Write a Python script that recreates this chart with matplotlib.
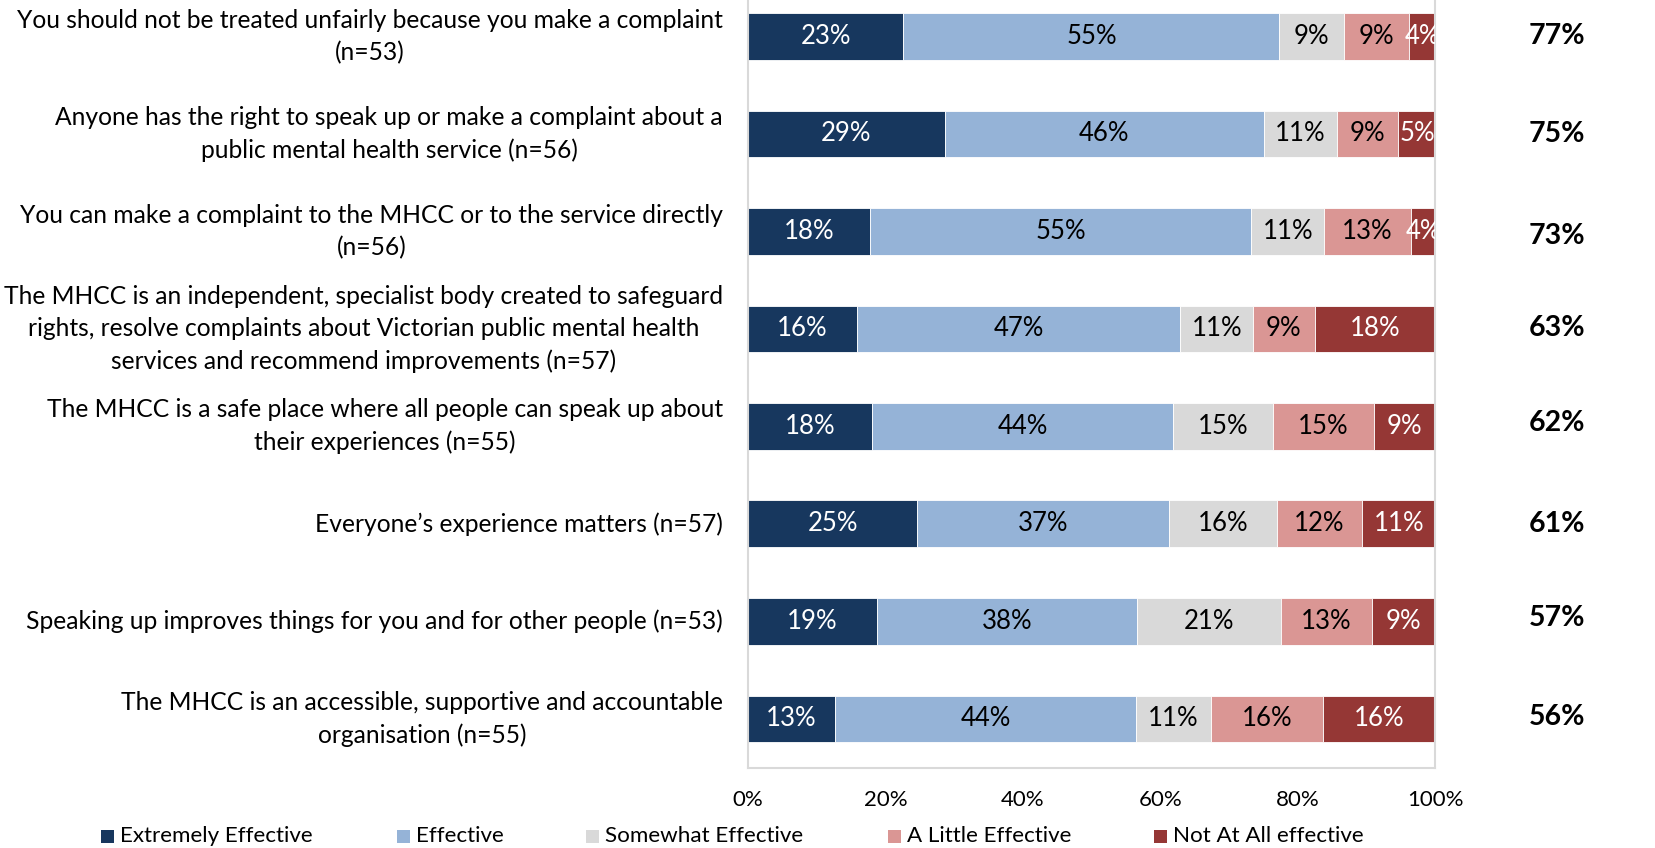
import matplotlib
matplotlib.use("Agg")
import matplotlib.pyplot as plt
from matplotlib.patches import Rectangle

plt.rcParams['font.family'] = ['Lato', 'DejaVu Sans']

categories = [
    "You should not be treated unfairly because you make a complaint\n(n=53)",
    "Anyone has the right to speak up or make a complaint about a\npublic mental health service (n=56)",
    "You can make a complaint to the MHCC or to the service directly\n(n=56)",
    "The MHCC is an independent, specialist body created to safeguard\nrights, resolve complaints about Victorian public mental health\nservices and recommend improvements (n=57)",
    "The MHCC is a safe place where all people can speak up about\ntheir experiences (n=55)",
    "Everyone\u2019s experience matters (n=57)",
    "Speaking up improves things for you and for other people (n=53)",
    "The MHCC is an accessible, supportive and accountable\norganisation (n=55)",
]

series_names = ["Extremely Effective", "Effective", "Somewhat Effective",
                "A Little Effective", "Not At All effective"]

extremely = [22.6, 28.6, 17.8, 15.8, 18.1, 24.6, 18.8, 12.7]
effective = [54.7, 46.4, 55.4, 47.1, 43.7, 36.6, 37.8, 43.7]
somewhat = [9.4, 10.7, 10.6, 10.6, 14.6, 15.7, 21.0, 10.9]
a_little = [9.4, 8.9, 12.6, 8.9, 14.6, 12.4, 13.1, 16.4]
not_at_all = [3.9, 5.4, 3.6, 17.6, 9.0, 10.7, 9.3, 16.3]

x_ticks = [0, 20, 40, 60, 80, 100]

colors = ["#17375E", "#95B3D7", "#D9D9D9", "#DA9694", "#953735"]
text_colors = ["white", "black", "black", "black", "white"]

series = [extremely, effective, somewhat, a_little, not_at_all]

W, H = 1655, 848
fig = plt.figure(figsize=(W / 100, H / 100), dpi=100)

band = 97.5
ax_left, ax_right = 748, 1435.5
first_center = 36.4
ax_top = first_center - band / 2
ax_bottom = ax_top + band * len(categories)
ax = fig.add_axes([ax_left / W, 1 - ax_bottom / H,
                   (ax_right - ax_left) / W, (ax_bottom - ax_top) / H])

n = len(categories)
ypos = list(range(n))
left = [0.0] * n
for vals, col, tcol in zip(series, colors, text_colors):
    ax.barh(ypos, vals, left=left, height=0.48, color=col,
            edgecolor="white", linewidth=0.6)
    for i, v in enumerate(vals):
        ax.text(left[i] + v / 2, i, f"{v:.0f}%", ha="center", va="center",
                color=tcol, fontsize=18.5, clip_on=True)
    left = [l + v for l, v in zip(left, vals)]

ax.set_xlim(0, 100)
ax.set_ylim(n - 0.5, -0.5)
ax.set_xticks(x_ticks)
ax.set_xticklabels([f"{t}%" for t in x_ticks], fontsize=16)
ax.tick_params(axis="x", length=0, pad=16)
ax.set_yticks([])
for side in ["left", "right", "bottom"]:
    ax.spines[side].set_color("#D9D9D9")
    ax.spines[side].set_linewidth(1.5)
ax.spines["top"].set_visible(False)

# category labels, right-aligned block with centred lines
for i, cat in enumerate(categories):
    fig.text(723 / W, 1 - (first_center + band * i) / H, cat,
             ha="right", va="center", multialignment="center",
             fontsize=17.7, linespacing=1.49)

# top-two-box totals on the right
total_dy = [0, 0, 5, -1, -3, 0, -3, -2]
for i in range(n):
    total = extremely[i] + effective[i]
    fig.text(1557 / W, 1 - (first_center + band * i + total_dy[i]) / H,
             f"{total:.0f}%", ha="center", va="center", fontsize=20.5,
             fontweight="bold")

# legend
leg_y = 836
marker_x = [101, 397, 586, 888, 1154]
sq = 13
for name, col, mx in zip(series_names, colors, marker_x):
    fig.add_artist(Rectangle((mx / W, 1 - (leg_y + sq / 2) / H), sq / W, sq / H,
                             transform=fig.transFigure, facecolor=col,
                             edgecolor="none"))
    fig.text((mx + sq + 6) / W, 1 - leg_y / H, name, ha="left", va="center",
             fontsize=16.1)

fig.savefig("out.png", dpi=100, facecolor="white")
